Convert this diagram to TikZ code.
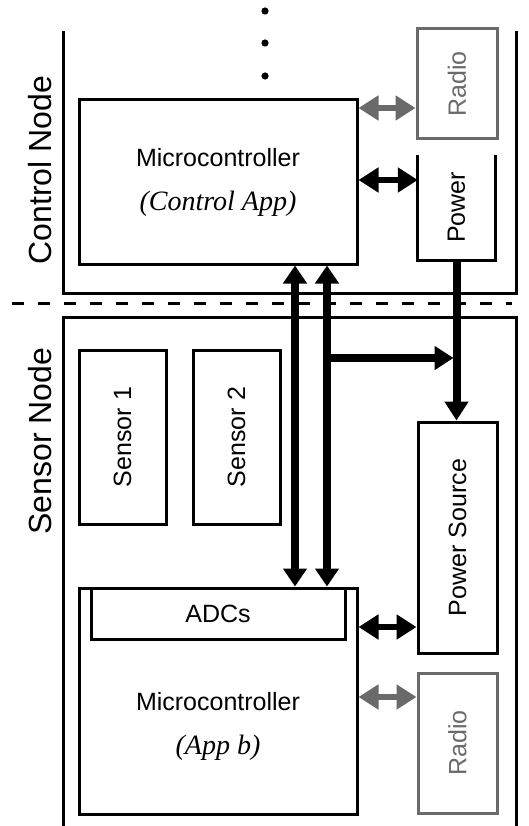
\documentclass[tikz,border=0pt]{standalone}
\usepackage{fontspec}
\setmainfont{Liberation Sans}
\newfontfamily\serifit{Liberation Serif}
\usepackage{tikz}
\usetikzlibrary{positioning, arrows.meta, calc}
\definecolor{radiogray}{HTML}{6A6A6A}

\begin{document}
\begin{tikzpicture}[
    x=1pt, y=-1pt,
    box/.style={draw, line width=3pt, font=\fontsize{25}{30}\selectfont, align=center, inner sep=0pt},
    radiobox/.style={box, draw=radiogray, text=radiogray},
    vlabel/.style={rotate=90, font=\fontsize{25}{30}\selectfont},
    frame/.style={line width=3pt},
    dbl/.style={{Triangle[length=20pt, width=24pt]}-{Triangle[length=20pt, width=24pt]}, line width=6pt},
    bus/.style={{Triangle[length=18pt, width=23pt]}-{Triangle[length=18pt, width=23pt]}, line width=8pt},
    feed/.style={-{Triangle[length=19pt, width=23pt]}, line width=8pt},
    sidelabel/.style={rotate=90, font=\fontsize{32}{36}\selectfont},
]
\useasboundingbox (0,0) rectangle (528,826);

% more control nodes above
\foreach \dy in {11, 43, 76}
  \fill (265,\dy) circle (3.6pt);

% Control node
\draw[frame] (63,31) -- (63,293) -- (516,293) -- (516,31);
\node[sidelabel] (ctrllabel) at (40,170) {Control Node};
\node[box, minimum width=278pt, minimum height=164pt] (cmcu) at (218,182)
  {Microcontroller\\[14pt]{\serifit\itshape\fontsize{28}{30}\selectfont (Control App)}};
\node[radiobox, minimum width=80pt, minimum height=110pt] (cradio) at (457,84) {};
\node[vlabel, text=radiogray] (cradiotext) at (cradio.center) {Radio};
\node[minimum width=77pt, minimum height=105pt, inner sep=0pt] (cpow) at (456.5,207.5) {};
\draw[frame] (cpow.north west) -- (cpow.south west) -- (cpow.south east) -- (cpow.north east);
\node[vlabel] (cpowtext) at (cpow.center) {Power};

\draw[dbl, radiogray] (cmcu.east |- 0,108) -- (cradio.west |- 0,108);
\draw[dbl] (cmcu.east |- 0,180) -- (cpow.west |- 0,180);

% Divider
\draw[line width=3pt, dash pattern=on 12pt off 14pt] (12,303) -- (512,303);

% Sensor node
\draw[frame] (63,826) -- (63,317) -- (516,317) -- (516,826);
\node[sidelabel] (senslabel) at (40,441) {Sensor Node};
\node[box, minimum width=87pt, minimum height=174pt] (sens1) at (122.5,437) {};
\node[vlabel] (sens1text) at (sens1.center) {Sensor 1};
\node[box, minimum width=87pt, minimum height=174pt] (sens2) at (236.5,437) {};
\node[vlabel] (sens2text) at (sens2.center) {Sensor 2};

\node[box, minimum width=79pt, minimum height=231pt] (psrc) at (457.5,537.5) {};
\node[vlabel] (psrctext) at (psrc.center) {Power Source};
\node[radiobox, minimum width=79pt, minimum height=140pt] (sradio) at (457.5,743) {};
\node[vlabel, text=radiogray] (sradiotext) at (sradio.center) {Radio};

\node[box, minimum width=278pt, minimum height=226pt] (smcu) at (218,701) {};
\node[box, minimum width=254pt, minimum height=51pt, anchor=north] (adc) at (smcu.north) {ADCs};
\node[font=\fontsize{25}{30}\selectfont, align=center] (smcutext) at (218,726)
  {Microcontroller\\[14pt]{\serifit\itshape\fontsize{28}{30}\selectfont (App b)}};

% Links between the nodes
\draw[bus] ([xshift=77pt]cmcu.south) -- ([xshift=77pt]smcu.north);
\draw[bus] ([xshift=109pt]cmcu.south) -- ([xshift=109pt]smcu.north);
\coordinate (tap) at ([xshift=109pt]cmcu.south |- 0,358);
\draw[feed] (tap) -- ([xshift=-4pt]tap -| psrc);
\draw[feed] (cpow.south) -- (cpow.south |- psrc.north);
\draw[dbl] (smcu.east |- 0,627) -- (psrc.west |- 0,627);
\draw[dbl, radiogray] (smcu.east |- 0,697) -- (sradio.west |- 0,697);

\end{tikzpicture}
\end{document}
